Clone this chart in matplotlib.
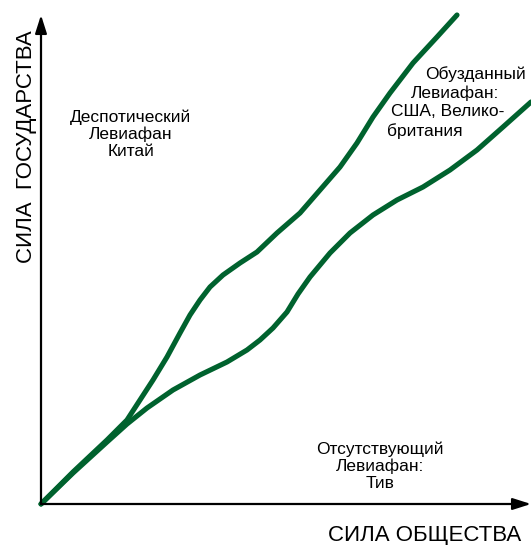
import matplotlib
matplotlib.use("Agg")
import matplotlib.pyplot as plt

plt.rcParams["font.family"] = ["Liberation Sans", "DejaVu Sans"]

# Curves, in units of "strength" (0..490 society, 0..489 state)
despotic_x = [0, 32, 66, 86, 99, 112, 126, 139, 149, 159, 169, 182, 199, 216,
              236, 259, 279, 299, 316, 332, 349, 372, 396, 416]
despotic_y = [0, 32, 64, 84, 104, 124, 147, 171, 189, 204, 217, 229, 241, 252,
              271, 291, 314, 337, 361, 387, 411, 441, 467, 489]

shackled_x = [0, 32, 66, 86, 106, 132, 159, 186, 206, 219, 232, 246, 257, 269,
              289, 309, 332, 356, 382, 409, 436, 462, 490]
shackled_y = [0, 31, 62, 80, 96, 114, 129, 142, 154, 164, 176, 192, 210, 227,
              251, 271, 289, 304, 317, 334, 354, 377, 402]

col = "#00622E"

fig = plt.figure(figsize=(5.31, 5.45), dpi=100)
ax = fig.add_axes([41 / 531, 41 / 545, 490 / 531, 489 / 545])
ax.set_xlim(0, 490)
ax.set_ylim(0, 489)
for s in ax.spines.values():
    s.set_visible(False)
ax.set_xticks([])
ax.set_yticks([])

ax.plot(despotic_x, despotic_y, color=col, lw=3.7, solid_capstyle="round",
        solid_joinstyle="round", clip_on=False)
ax.plot(shackled_x, shackled_y, color=col, lw=3.7, solid_capstyle="round",
        solid_joinstyle="round", clip_on=False)

# axes with arrows
arrow = dict(arrowstyle="-|>,head_length=1.1,head_width=0.35", color="black", lw=1.6,
             shrinkA=0, shrinkB=0)
ax.annotate("", xy=(0, 1.0), xytext=(0, 0), xycoords="axes fraction", arrowprops=arrow,
            annotation_clip=False)
ax.annotate("", xy=(1.0, 0), xytext=(0, 0), xycoords="axes fraction", arrowprops=arrow,
            annotation_clip=False)

fig.text(425 / 531, 1 - 535 / 545, "СИЛА ОБЩЕСТВА", fontsize=16, ha="center", va="center")
fig.text(27 / 531, 1 - 147 / 545, "СИЛА  ГОСУДАРСТВА", fontsize=16, ha="center", va="center",
         rotation=90)

fig.text(131 / 531, 1 - 134 / 545, "Деспотический\nЛевиафан\nКитай", fontsize=12.5,
         ha="center", va="center", linespacing=1.15)
fig.text(380 / 531, 1 - 466 / 545, "Отсутствующий\nЛевиафан:\nТив", fontsize=12.5,
         ha="center", va="center", linespacing=1.15)
for x, y, t in [(425, 74, "Обузданный"), (411, 93, "Левиафан:"),
                (391, 112, "США, Велико-"), (387, 131, "британия")]:
    fig.text(x / 531, 1 - y / 545, t, fontsize=12.5, ha="left", va="center")

fig.savefig("out.png", dpi=100)
